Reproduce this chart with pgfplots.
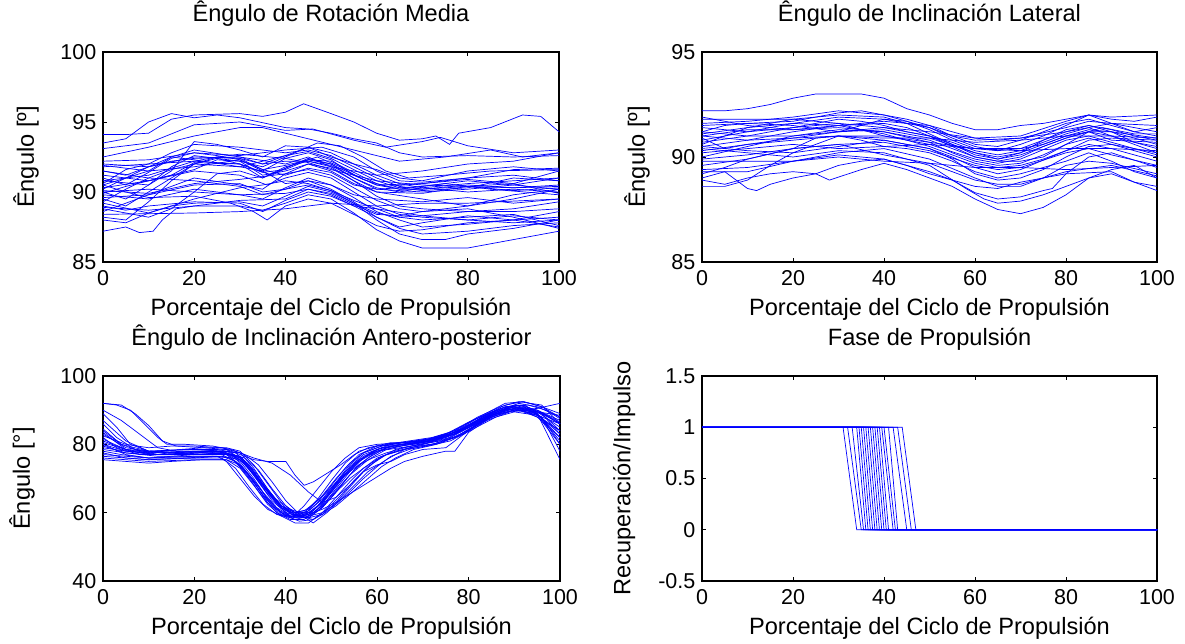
\documentclass[border=0pt]{standalone}
\usepackage{pgfplots}
\pgfplotsset{compat=1.18}
\usepackage{fontspec}
\setmainfont{Liberation Sans}
\definecolor{mblue}{rgb}{0,0,1}
\tikzset{ln/.style={draw=mblue, line width=0.7pt}}
\pgfplotsset{
  mat/.style={
    scale only axis,
    font=\fontsize{21.5}{25}\selectfont,
    /pgf/number format/assume math mode=true,
    axis line style={line width=1.1pt},
    tick style={line width=0.9pt, black},
    major tick length=4pt,
    tick align=inside,
    tick pos=both,
    xmin=0, xmax=100,
    xtick={0,20,40,60,80,100},
    no marks,
    xticklabel style={inner sep=0pt, yshift=-8.5pt},
    yticklabel style={inner sep=0pt, xshift=-6.5pt},
    title style={at={(0.5,1)}, anchor=base, yshift=24pt, inner sep=0pt, font=\fontsize{23.6}{27}\selectfont},
    xlabel style={at={(0.5,0)}, anchor=base, yshift=-54pt, inner sep=0pt, font=\fontsize{23.6}{27}\selectfont},
    ylabel style={font=\fontsize{23.6}{27}\selectfont},
    xlabel={Porcentaje del Ciclo de Propulsión},
  }
}
\begin{document}
\begin{tikzpicture}
\path[use as bounding box] (0,0) rectangle (1185pt,644pt);
% ---------- Top left ----------
\begin{axis}[mat, at={(103pt,382pt)}, anchor=south west, width=456pt, height=210pt,
  ymin=85, ymax=100, ytick={85,90,95,100},
  title={Êngulo de Rotación Media},
  ylabel={Êngulo [º]},
  ylabel style={at={(axis description cs:-0.169,0.5)}, anchor=center}]
\addplot[ln] coordinates {(0,94.1)(5,94.1)(10,94.2)(15,95.2)(20,95.5)(30,95.6)(35,95.4)(40,95.7)(44,96.3)(50,95.6)(55,95)(60,94.2)(65,93.7)(70,93.8)(73,94)(76,93.4)(78,94.2)(85,94.6)(92,95.5)(96,95.4)(100,94.3)};
\addplot[ln] coordinates {(0,93.5)(5,93.8)(10,95)(15,95.6)(20,95.3)(25,95.5)(30,95.3)(40,94.6)(45,94.5)(50,94.2)(55,93.8)(60,93.5)(65,92.8)(70,92.5)(80,92.6)(90,92.5)(100,92.6)};
\addplot[ln] coordinates {(0,93.1)(10,93.5)(20,94.8)(30,95.0)(40,94.4)(46,94.5)(55,93.7)(62,93.2)(70,93.6)(74,93.9)(80,93.3)(90,92.8)(100,93)};
\addplot[ln] coordinates {(0,92.5)(10,93.2)(20,94)(30,94.6)(35,94.6)(45,93.8)(55,93)(65,92.2)(75,92.5)(85,93)(92,92.5)(100,92.8)};
\addplot[ln] coordinates {(0,91)(5,90.5)(10,91.4)(15,92.4)(20,92.8)(25,92.6)(30,92.3)(35,91.5)(40,92.4)(45,92.8)(50,92.3)(55,91.2)(60,90.5)(65,90.2)(70,90.2)(80,90.5)(90,90.3)(100,90.5)};
\addplot[ln] coordinates {(0,90)(5,89.5)(10,90.5)(15,91.8)(20,92.6)(25,92.4)(30,92)(35,91)(40,91.7)(45,92.4)(50,92)(55,91)(60,90.3)(65,90)(70,90.3)(80,90.6)(90,90.8)(100,91)};
\addplot[ln] coordinates {(0,91.5)(5,91.2)(10,91.8)(15,92.2)(20,92.4)(30,92.5)(35,92)(40,92.6)(45,93.2)(50,92.8)(55,92)(60,91.2)(65,90.6)(70,90.3)(80,90)(90,90.2)(100,90)};
\addplot[ln] coordinates {(0,89.5)(5,89)(10,90)(15,91)(20,92)(25,92.4)(30,92.2)(35,91.2)(40,91.5)(45,92)(50,91.5)(55,90.6)(60,90)(70,89.9)(80,90.4)(90,90.6)(100,91.5)};
\addplot[ln] coordinates {(0,90.8)(10,90.5)(15,91.5)(20,93.6)(25,93.4)(30,93)(35,92.5)(40,93.3)(45,93.2)(50,92.5)(55,92)(60,91.6)(65,91)(70,90.8)(80,91.5)(90,91.8)(100,91.5)};
\addplot[ln] coordinates {(0,88.2)(5,88)(10,89.3)(15,90.8)(20,92)(25,92.5)(30,92.4)(35,91.6)(40,91.2)(45,91.7)(50,91.4)(55,90.5)(60,90.2)(70,90.4)(80,90.8)(90,90.5)(100,90.2)};
\addplot[ln] coordinates {(0,89)(5,88.7)(10,89)(20,89.3)(30,89.2)(35,88.6)(40,89.4)(45,90)(50,89.7)(55,89)(60,88.2)(65,87.4)(70,87)(80,87.2)(90,87.6)(100,87.8)};
\addplot[ln] coordinates {(0,88)(5,87.8)(10,88.5)(15,89)(20,89.2)(30,89.3)(35,89)(40,89.7)(45,90.4)(50,90)(55,89.2)(60,88)(65,87)(70,86.6)(75,86.6)(80,87)(90,87.4)(100,88)};
\addplot[ln] coordinates {(0,87.2)(5,87.5)(8,87.1)(11,87.2)(13,88)(16,88.8)(20,89)(30,89)(35,88.7)(40,89.2)(45,89.8)(50,89.5)(55,88.5)(60,87.3)(65,86.5)(70,86)(75,86)(80,86)(90,86.6)(100,87.2)};
\addplot[ln] coordinates {(0,89.8)(10,89.5)(20,90.2)(30,89.8)(35,89.5)(40,90.3)(45,91)(50,90.5)(55,89.6)(60,88.6)(65,88)(70,87.5)(80,87.7)(90,88)(100,88.6)};
\addplot[ln] coordinates {(0,90.5)(5,90)(10,89.6)(20,89.7)(28,89.2)(33,88.6)(36,88)(40,89)(45,89.5)(50,89.2)(55,88.4)(60,87.6)(65,87.2)(70,87.3)(80,87.8)(90,88)(100,87.5)};
\addplot[ln] coordinates {(0,89.2)(10,88.5)(20,89.5)(30,90.3)(35,90.5)(40,90.8)(45,90.6)(50,90.1)(55,89.2)(60,88.5)(65,88.2)(70,88.3)(80,88.6)(90,88.8)(100,89.3)};
\addplot[ln] coordinates {(0,91.5)(10,91)(20,90.8)(30,90.4)(35,89.8)(40,90.2)(45,90.8)(50,90.2)(55,89.3)(60,88.2)(65,87.5)(70,87.8)(80,88.3)(90,88)(100,88.2)};
\addplot[ln] coordinates {(0,90.5)(10,91.5)(15,92.5)(20,92.3)(30,91.8)(35,91.5)(40,90.6)(45,90.8)(50,90.5)(55,89.8)(60,89.5)(70,89.3)(80,89.6)(90,89.2)(100,89.5)};
\addplot[ln] coordinates {(0,88.4)(20,88.5)(30,88.6)(40,88.8)(50,89.2)(60,89)(70,89.2)(80,89.2)(100,89.5)};
\addplot[ln] coordinates {(0,92.2)(10,92.3)(20,92.8)(30,92.6)(40,93)(48,93.2)(55,92.5)(60,91.5)(65,90.8)(70,90.7)(80,91)(90,91.6)(100,91.7)};
\addplot[ln] coordinates {(0,90.2)(5,91)(10,91.8)(15,92.5)(20,93)(30,92.5)(40,92)(45,92.5)(50,91.8)(55,90.8)(60,90)(70,89.5)(80,89)(90,89.5)(100,90.2)};
\addplot[ln] coordinates {(0,91.2)(10,90.8)(20,91.5)(30,91.2)(36,90.5)(40,91)(45,91.4)(50,91)(55,90)(60,89)(65,88.4)(70,88.2)(80,88)(90,87.8)(100,88)};
\addplot[ln] coordinates {(0,89.6)(10,89.8)(20,91)(30,90.5)(35,90.2)(40,91.3)(45,92)(50,91.7)(55,90.8)(60,89.7)(65,89)(70,88.8)(80,88.6)(90,88.6)(100,88.8)};
\addplot[ln] coordinates {(0,90.8)(10,91.2)(20,92.2)(25,92.5)(30,92.7)(40,92.4)(45,92.1)(50,91.6)(60,90.8)(70,90.5)(80,90.4)(90,90.3)(100,90.4)};
\addplot[ln] coordinates {(0,88.8)(10,88.2)(15,88.8)(20,90)(25,91.3)(30,91.5)(35,91)(40,91.8)(45,92.2)(50,91.9)(55,91)(60,90.2)(70,90)(80,90.2)(90,90.5)(100,91)};
\addplot[ln] coordinates {(0,90)(10,90.2)(20,90)(30,89.8)(40,89.9)(45,90.2)(50,89.8)(55,89)(60,88.8)(70,88.3)(80,88)(90,88.3)(100,88)};
\addplot[ln] coordinates {(0,91.8)(10,92)(15,92.8)(20,93.4)(30,93.2)(40,92.8)(45,93)(50,92.6)(55,91.8)(60,91)(65,90.4)(70,90.2)(80,90.4)(90,90.1)(100,90.3)};
\addplot[ln] coordinates {(0,90.6)(5,91.6)(10,92)(20,92.2)(30,92)(35,91.4)(40,91.6)(45,92.3)(50,92.2)(55,91.4)(60,90.6)(65,90.2)(75,90.6)(85,90.2)(100,89.8)};
\addplot[ln] coordinates {(0,89.3)(5,90.2)(10,91)(15,91.6)(20,92)(30,91.8)(40,92.6)(45,92.9)(50,92.4)(55,91.6)(60,90.8)(65,90.3)(70,90.1)(80,90.3)(90,91)(100,90.8)};
\addplot[ln] coordinates {(0,90.3)(10,90.8)(20,91.6)(25,92.3)(30,92.2)(35,91.8)(40,92.5)(47,93.5)(52,93.3)(57,92.5)(62,91.5)(67,91)(75,91.2)(85,91.5)(100,91.6)};
\addplot[ln] coordinates {(0,88.6)(5,89.2)(10,89.8)(20,90.5)(30,90.6)(35,90)(40,90.2)(45,90.5)(50,90.1)(55,89.4)(60,88.8)(65,88.2)(70,88)(80,88.2)(90,88.4)(100,87.6)};
\addplot[ln] coordinates {(0,91.9)(10,91.5)(20,91.8)(30,92.3)(35,91.6)(40,91.9)(45,92.3)(50,92)(55,91.2)(60,90.5)(70,90.6)(80,91)(90,91.2)(100,90.8)};
\addplot[ln] coordinates {(0,90.1)(10,89.9)(20,90.6)(30,90.9)(40,91.3)(45,91.6)(50,91.2)(55,90.3)(60,89.4)(65,88.8)(70,88.6)(80,89)(90,89.8)(100,90.2)};
\addplot[ln] coordinates {(0,89.9)(5,90.4)(15,91.2)(20,92.1)(30,92)(37,91.2)(42,92)(47,92.5)(52,91.8)(57,90.9)(62,90.4)(70,90.6)(80,90.9)(90,90.6)(100,89.9)};
\addplot[ln] coordinates {(0,88.9)(10,88.7)(20,89)(30,89.4)(40,89.5)(45,90.2)(50,89.9)(55,89.1)(60,88.4)(65,88.3)(70,88.6)(80,88.8)(90,88.2)(100,87.4)};
\addplot[ln] coordinates {(0,92)(10,91.8)(20,92.5)(30,92.4)(35,92)(40,92.2)(45,92.2)(50,91.8)(55,91.5)(60,91.2)(70,91.5)(80,92)(90,92.2)(100,92.8)};
\end{axis}
% ---------- Top right ----------
\begin{axis}[mat, at={(702pt,382pt)}, anchor=south west, width=455pt, height=210pt,
  ymin=85, ymax=95, ytick={85,90,95},
  title={Êngulo de Inclinación Lateral},
  ylabel={Êngulo [º]},
  ylabel style={at={(axis description cs:-0.143,0.5)}, anchor=center}]
\addplot[ln] coordinates {(0,92.2)(5,92.2)(10,92.3)(15,92.5)(20,92.8)(25,93)(35,93)(40,92.8)(45,92.3)(50,92)(55,91.6)(60,91.3)(65,91.3)(70,91.5)(75,91.6)(80,91.8)(85,92)(90,91.8)(95,91.7)(100,91.9)};
\addplot[ln] coordinates {(0,91.2)(5,91.5)(10,91.6)(20,91.7)(30,92.1)(35,92.2)(40,92)(45,91.7)(50,91.3)(55,90.8)(60,90.4)(65,90.3)(70,90.6)(75,91)(80,91.5)(85,92)(90,91.6)(95,91.2)(100,91)};
\addplot[ln] coordinates {(0,90.8)(10,91.2)(20,91.4)(30,91.8)(35,91.7)(40,91.5)(45,91.2)(50,91)(55,90.6)(60,90.2)(65,90)(70,90.2)(75,90.6)(80,91)(85,91.3)(90,91.2)(95,90.7)(100,90.5)};
\addplot[ln] coordinates {(0,90.5)(10,90.8)(20,91.2)(30,91.5)(40,91.6)(45,91.4)(50,91)(55,90.5)(60,90)(65,89.8)(70,90)(75,90.5)(80,90.9)(85,91.2)(90,91)(95,90.6)(100,90.2)};
\addplot[ln] coordinates {(0,91.5)(10,91.6)(20,91.5)(30,91.2)(40,91.8)(45,91.7)(50,91.4)(55,91)(60,90.6)(65,90.5)(70,90.8)(75,91.2)(80,91.6)(85,91.8)(90,91.5)(95,91.2)(100,91.4)};
\addplot[ln] coordinates {(0,90)(10,90.5)(20,91)(30,91.3)(40,91.2)(50,90.7)(55,90.2)(60,89.8)(65,89.6)(70,89.7)(75,90.1)(80,90.6)(85,90.9)(90,90.6)(95,90.3)(100,90)};
\addplot[ln] coordinates {(0,89.6)(10,89.9)(20,90.4)(25,90.9)(30,91)(40,90.8)(50,90.4)(55,90)(60,89.5)(65,89.2)(70,89.4)(80,90.3)(85,90.6)(90,90.4)(100,89.8)};
\addplot[ln] coordinates {(0,88.6)(5,88.6)(10,88.9)(15,89.6)(20,90.2)(25,90.6)(30,91)(35,90.8)(40,90.5)(45,90.4)(50,90.2)(55,89.8)(60,89.3)(65,89)(70,89.2)(80,89.8)(85,90.2)(90,89.8)(95,89.3)(100,89)};
\addplot[ln] coordinates {(0,89)(5,89.3)(10,88.5)(12,88.4)(15,88.7)(20,89)(25,89.2)(30,89.6)(35,89.8)(40,89.9)(45,89.6)(50,89.2)(55,88.9)(60,88.6)(65,88.5)(70,88.8)(75,89)(80,89.2)(90,89.3)(95,88.8)(100,88.4)};
\addplot[ln] coordinates {(0,88.9)(5,88.7)(10,89)(15,89.2)(20,89.3)(25,89.2)(28,88.9)(35,89.4)(40,89.7)(45,89.4)(50,89)(55,88.6)(60,88)(65,87.5)(70,87.3)(75,87.6)(80,88.2)(85,89)(90,89.2)(95,88.8)(100,88.6)};
\addplot[ln] coordinates {(0,89.3)(10,89.3)(20,89.8)(30,90.1)(40,89.9)(50,89.3)(55,88.9)(60,88.3)(65,88)(70,88.1)(75,88.4)(77,88.5)(80,89.2)(85,90)(90,90.2)(100,89.5)};
\addplot[ln] coordinates {(0,90.4)(10,90.2)(20,90)(30,90.3)(40,90.2)(50,89.6)(58,88.5)(62,88)(65,87.8)(70,87.9)(75,88.2)(80,88.6)(85,89)(90,89.4)(95,89.6)(100,89)};
\addplot[ln] coordinates {(0,91.2)(10,91)(20,91.4)(30,91.6)(40,91.4)(50,91.2)(60,90.9)(65,90.8)(70,90.9)(80,91.2)(90,91.6)(100,91.5)};
\addplot[ln] coordinates {(0,90.6)(10,91.4)(20,91.8)(30,91.6)(35,91.3)(40,91)(50,90.7)(60,90.4)(70,90.4)(75,90.6)(80,91)(85,91.2)(90,90.8)(100,90.7)};
\addplot[ln] coordinates {(0,91.8)(10,91.8)(20,91.8)(30,92)(40,91.9)(45,91.6)(50,91.1)(55,90.6)(60,90.1)(65,89.9)(70,90.2)(75,90.8)(80,91.2)(85,91.5)(90,91.3)(95,91)(100,90.8)};
\addplot[ln] coordinates {(0,90.2)(10,90.4)(20,90.6)(30,90.4)(40,90.5)(50,90.6)(60,90.4)(70,90.3)(80,90.4)(90,90.4)(100,90.3)};
\addplot[ln] coordinates {(0,89.8)(10,89.8)(20,89.8)(30,90)(40,89.8)(50,89.7)(60,89.5)(70,89.5)(80,89.4)(90,89.5)(100,89.6)};
\addplot[ln] coordinates {(0,91)(10,91.3)(20,91.3)(30,91.4)(40,91.2)(50,90.8)(55,90.4)(60,90)(65,89.8)(70,89.8)(75,90)(80,90.6)(85,91.2)(90,91.2)(100,90.6)};
\addplot[ln] coordinates {(0,90.9)(5,90.4)(10,90.6)(20,90.9)(30,91.2)(40,91.3)(50,90.9)(60,90.2)(65,89.9)(70,90.1)(80,90.9)(88,91.4)(95,91.1)(100,91.1)};
\addplot[ln] coordinates {(0,89.4)(10,89.5)(20,89.8)(30,90.2)(40,90.4)(50,89.9)(60,89)(65,88.6)(70,88.6)(75,89)(80,89.6)(85,89.8)(90,89.7)(100,89.2)};
\addplot[ln] coordinates {(0,91.4)(10,91.2)(20,91.6)(30,91.9)(40,91.8)(50,91.4)(55,90.9)(60,90.5)(65,90.3)(70,90.4)(75,90.8)(80,91.3)(85,91.5)(90,91.2)(100,90.9)};
\addplot[ln] coordinates {(0,90.7)(10,91)(20,91)(30,91.2)(40,91.4)(50,91)(55,90.7)(60,90.3)(65,90.1)(70,90.3)(80,91.1)(85,91.4)(90,91)(100,90.4)};
\addplot[ln] coordinates {(0,90.3)(10,90.6)(20,90.8)(30,91)(40,91)(50,90.6)(60,89.9)(65,89.7)(70,89.9)(80,90.8)(85,91)(90,90.7)(100,90.1)};
\addplot[ln] coordinates {(0,91.6)(10,91.7)(20,91.9)(30,92.2)(40,92)(45,91.8)(50,91.5)(55,91)(60,90.8)(70,90.9)(80,91.4)(85,91.7)(90,91.6)(100,91.2)};
\addplot[ln] coordinates {(0,89.9)(10,90.1)(20,90.4)(30,90.6)(40,90.7)(50,90.3)(60,89.6)(65,89.4)(70,89.5)(80,90.2)(85,90.4)(90,90.1)(100,89.6)};
\addplot[ln] coordinates {(0,91)(10,90.8)(20,90.9)(30,91)(40,90.9)(50,90.9)(60,90.7)(70,90.8)(80,91)(90,91)(100,90.9)};
\addplot[ln] coordinates {(0,90.5)(10,90.3)(20,90.2)(30,90.5)(40,90.8)(50,90.4)(55,89.9)(60,89.2)(65,88.9)(70,89)(75,89.4)(80,90)(85,90.5)(90,90.6)(100,90.2)};
\addplot[ln] coordinates {(0,91.1)(10,91.4)(20,91.6)(30,91.5)(40,91.1)(50,90.5)(55,90.1)(60,89.7)(65,89.5)(70,89.6)(75,89.9)(80,90.3)(85,90.8)(90,90.9)(100,90.8)};
\addplot[ln] coordinates {(0,89.2)(5,89.5)(10,89.9)(20,90.4)(30,90.6)(40,90.1)(50,89.7)(60,88.9)(65,88.7)(70,88.7)(80,89.3)(90,89.6)(100,89.1)};
\addplot[ln] coordinates {(0,91.9)(10,91.5)(20,91.3)(30,91.5)(40,91.7)(50,91.5)(55,91.2)(60,90.9)(70,91)(80,91.7)(85,92)(90,91.9)(100,92)};
\end{axis}
% ---------- Bottom left ----------
\begin{axis}[mat, at={(103pt,63pt)}, anchor=south west, width=457pt, height=205pt,
  ymin=40, ymax=100, ytick={40,60,80,100},
  title={Êngulo de Inclinación Antero-posterior},
  ylabel={Êngulo [°]},
  ylabel style={at={(axis description cs:-0.177,0.5)}, anchor=center}]
\addplot[ln] coordinates {(0,84)(4,80)(8,78)(15,77.5)(20,78)(26,77.8)(29,76)(32,71)(35,65)(38,61)(41,59)(44,59.5)(47,63)(50,68)(53,73)(56,77)(60,79.5)(65,80.5)(70,81)(75,83)(80,86.5)(85,89.5)(90,91)(95,89.5)(100,85)};
\addplot[ln] coordinates {(0,78)(4,77)(10,76)(15,76.5)(20,77)(27,77)(30,75)(33,70)(36,64)(39,60)(42,58)(45,59)(48,62)(51,67)(54,72)(57,76)(60,78.5)(65,80)(70,80.5)(75,82.5)(80,85.5)(85,88.5)(90,90.5)(95,88)(100,82)};
\addplot[ln] coordinates {(0,82)(3,79)(8,77)(15,77)(22,78)(27,78.5)(31,75)(34,70)(37,65)(40,61.5)(43,60)(46,60)(49,63.5)(52,68)(55,72.5)(58,76)(62,79)(68,80)(72,81)(78,84)(83,88)(88,91)(92,91.5)(96,89)(100,86)};
\addplot[ln] coordinates {(0,76.5)(5,76)(10,75.5)(18,76)(24,76.5)(28,76)(31,72)(34,67)(37,62)(40,59)(43,57.5)(46,58)(49,61)(52,65)(55,69.5)(58,73.5)(62,77)(67,79)(72,80)(77,82)(82,86)(87,90)(91,92)(95,91)(100,88)};
\addplot[ln] coordinates {(0,86)(3,82)(7,78.5)(12,77)(20,77)(26,77.5)(30,76.5)(33,72.5)(36,67)(39,62)(42,59.5)(45,60.5)(48,64)(51,69)(54,74)(57,77.5)(61,79.5)(66,80.5)(71,81.5)(76,83.5)(81,87)(86,90)(90,91.5)(94,90)(100,83)};
\addplot[ln] coordinates {(0,90)(4,87)(8,83)(12,79)(16,78)(22,78)(27,77.5)(30,75.5)(33,71)(36,66)(39,61.5)(42,59)(45,58.5)(48,61.5)(51,66)(54,71)(58,75.5)(62,78.5)(67,80)(72,81)(78,83.5)(83,87.5)(88,90.5)(92,91)(96,88)(100,80)};
\addplot[ln] coordinates {(0,92)(3,91.5)(6,90)(9,86)(12,82)(14,80)(18,80)(24,79.5)(28,78.5)(31,77)(34,74)(37,69)(40,63.5)(43,59.5)(46,57)(49,60)(52,64)(55,68)(58,72)(62,75.5)(66,78.5)(70,80)(75,82)(80,85)(85,88.5)(90,90)(95,90.5)(100,92)};
\addplot[ln] coordinates {(0,92)(4,91.5)(7,89)(10,85.5)(13,81)(16,79.5)(22,79)(27,78.5)(30,77)(33,75.5)(36,75)(40,75)(42,71)(44,68)(46,69)(49,71.5)(52,74)(55,77)(58,79)(63,80.5)(68,80.5)(73,82)(78,84.5)(83,88.5)(88,92)(92,92.5)(96,91)(100,88)};
\addplot[ln] coordinates {(0,79)(5,78)(12,77)(20,77.5)(26,78)(30,77.5)(33,76)(37,74.5)(41,71)(43,68.5)(45,66)(48,63)(51,64.5)(54,68)(57,72)(60,74)(63,75)(66,77)(70,78.5)(75,79)(80,84)(85,89)(90,91)(95,88)(100,84)};
\addplot[ln] coordinates {(0,77)(5,76.5)(10,76)(20,76)(26,76.5)(30,75.5)(33,71.5)(36,66.5)(39,62)(42,60)(45,59.5)(48,61)(51,63)(54,65.5)(57,68)(60,70.5)(63,73)(66,75)(70,76.5)(75,78)(77,78)(80,83.5)(85,88)(90,90)(95,89)(100,82)};
\addplot[ln] coordinates {(0,80)(5,78)(10,77.5)(17,78.5)(22,79)(27,79)(30,78)(33,74)(36,68.5)(39,63)(42,60)(45,60)(47,62)(50,66)(53,71)(56,75)(59,78)(63,80)(68,81)(73,82)(78,84)(83,87.5)(88,90)(92,90.5)(96,88)(100,78)};
\addplot[ln] coordinates {(0,75.5)(5,75)(10,74.5)(15,75)(22,75.5)(27,75.5)(30,73)(33,68)(36,62.5)(39,59)(42,57)(45,57)(48,60)(51,64.5)(54,69)(57,73)(61,76.5)(66,78.5)(71,79.5)(76,81)(81,84.5)(86,88)(90,89.5)(95,88.5)(100,86)};
\addplot[ln] coordinates {(0,83)(5,79)(10,78)(15,77)(22,77.5)(28,77)(31,74.5)(34,69)(37,63.5)(40,60)(43,59)(46,60.5)(49,65)(52,70)(55,74)(58,77)(62,79)(67,80.5)(72,81.5)(77,83)(82,87)(87,90)(91,90.5)(95,89)(100,75.5)};
\addplot[ln] coordinates {(0,81)(6,78)(12,77)(20,77)(26,77)(29,75)(32,70)(35,64.5)(38,60)(41,58)(44,58)(47,61)(50,66)(53,71)(56,75)(60,78)(65,79.5)(70,80.5)(75,82)(80,85)(85,88.5)(90,90.5)(95,88.5)(100,84)};
\addplot[ln] coordinates {(0,78.5)(5,77.5)(10,77)(20,77.5)(27,78)(30,76)(33,72)(36,66.5)(39,61.5)(42,59)(45,59.5)(48,63)(51,68)(54,73)(57,76.5)(61,79)(66,80)(71,81)(76,83)(81,86)(86,89)(90,91)(95,90)(100,87)};
\addplot[ln] coordinates {(0,87)(5,81)(10,78)(16,77.5)(22,78)(27,77)(30,74)(33,69)(36,63)(39,59.5)(42,58.5)(45,59.5)(48,63)(51,68.5)(54,73.5)(57,77)(61,79)(66,80)(71,81)(76,83)(81,86.5)(86,89.5)(90,91)(95,89)(100,81)};
\addplot[ln] coordinates {(0,82.5)(5,80)(10,79)(15,79.5)(20,79.5)(26,79)(30,77.5)(33,73)(36,67)(39,62)(42,60)(45,61)(48,65)(51,70)(54,74.5)(57,77.5)(62,80)(67,81)(72,82)(77,84)(82,88)(87,91)(91,92.5)(96,91.5)(100,86)};
\addplot[ln] coordinates {(0,79.5)(5,77.5)(12,76.5)(20,76.5)(26,76.5)(29,75)(32,71)(35,66)(38,61.5)(41,59)(44,59)(47,62)(50,67)(53,72)(56,75.5)(60,78)(65,79)(70,80)(75,81.5)(80,85)(85,88)(90,90)(95,89.5)(100,88.5)};
\addplot[ln] coordinates {(0,80)(5,77)(10,76)(20,76.5)(25,76.5)(27,75)(30,70)(33,65)(36,61)(39,59)(42,59.5)(44,62)(47,67)(50,72)(53,76)(56,79)(60,80)(66,80.5)(72,81.5)(78,84)(83,88)(88,91)(92,91.5)(96,89)(100,84)};
\addplot[ln] coordinates {(0,77.5)(5,76)(10,75.5)(20,76)(26,76)(29,73)(32,67.5)(35,62.5)(38,59.5)(41,58.5)(44,60)(47,64)(50,69.5)(53,74.5)(56,78)(60,79.5)(66,80)(72,81)(77,83)(82,87)(87,90.5)(91,91.5)(95,90)(100,86.5)};
\addplot[ln] coordinates {(0,81.5)(5,78.5)(10,77.5)(18,78)(25,78)(30,76)(33,71)(36,65.5)(39,61.5)(42,59.5)(45,59)(48,60)(51,62.5)(54,66)(57,70)(60,73.5)(63,76.5)(67,78.5)(72,80)(77,82)(82,86)(87,89)(91,90.5)(95,90)(100,86)};
\addplot[ln] coordinates {(0,84.5)(4,80)(10,78)(18,77.5)(25,77.5)(30,76.5)(33,72)(36,66.5)(39,62)(42,59.5)(45,58.5)(48,59.5)(51,62)(55,66.5)(58,70)(61,73.5)(64,76)(68,78.5)(73,80)(78,82.5)(83,86.5)(88,90)(92,91)(96,89)(100,83)};
\addplot[ln] coordinates {(0,76)(5,75.5)(10,75)(20,75.5)(27,75.5)(30,74)(33,69.5)(36,64)(39,60)(42,58.5)(45,58.5)(48,61.5)(51,66)(54,70)(57,73)(60,76)(64,78)(69,79.5)(74,80.5)(79,83.5)(84,87)(89,89.5)(93,90)(97,88.5)(100,86)};
\addplot[ln] coordinates {(0,89)(3,85)(6,80)(10,78)(18,78.5)(25,78.5)(29,77.5)(32,74)(35,68)(38,62.5)(41,59)(44,58.5)(47,60.5)(50,64.5)(53,69.5)(56,74)(59,77)(63,79.5)(68,80.5)(73,81.5)(78,84)(83,88)(88,91.5)(92,92.5)(96,91)(100,89)};
\addplot[ln] coordinates {(0,80.5)(5,78.5)(10,78)(20,78.5)(26,78)(29,76.5)(32,73)(35,68)(38,63)(41,60)(44,60.5)(47,63.5)(50,67.5)(53,71)(56,74)(59,76)(62,77.5)(66,79)(71,80.5)(76,82)(81,85.5)(86,89)(90,90.5)(95,88.5)(100,80)};
\addplot[ln] coordinates {(0,83.5)(5,78.5)(10,77)(20,77)(27,77.5)(31,76)(34,72.5)(37,67)(40,62)(43,59)(46,58)(48,59.5)(51,63)(54,67.5)(57,72)(60,75.5)(64,78.5)(69,80)(74,81)(79,83)(84,87.5)(89,91)(93,91.5)(97,90)(100,87.5)};
\end{axis}
% ---------- Bottom right ----------
\begin{axis}[mat, at={(702pt,63pt)}, anchor=south west, width=455pt, height=205pt,
  ymin=-0.5, ymax=1.5, ytick={-0.5,0,0.5,1,1.5},
  yticklabels={-0.5,0,0.5,1,1.5},
  title={Fase de Propulsión},
  ylabel={Recuperación/Impulso},
  ylabel style={at={(axis description cs:-0.171,0.5)}, anchor=center}]
\addplot[ln] coordinates {(0,1)(31,1)(34,0)(100,0)};
\addplot[ln] coordinates {(0,1)(32,1)(35,0)(100,0)};
\addplot[ln] coordinates {(0,1)(33,1)(35.5,0)(100,0)};
\addplot[ln] coordinates {(0,1)(34,1)(36,0)(100,0)};
\addplot[ln] coordinates {(0,1)(34.5,1)(36.5,0)(100,0)};
\addplot[ln] coordinates {(0,1)(35,1)(37,0)(100,0)};
\addplot[ln] coordinates {(0,1)(35.5,1)(37.5,0)(100,0)};
\addplot[ln] coordinates {(0,1)(36,1)(38,0)(100,0)};
\addplot[ln] coordinates {(0,1)(36.5,1)(38.5,0)(100,0)};
\addplot[ln] coordinates {(0,1)(37,1)(39,0)(100,0)};
\addplot[ln] coordinates {(0,1)(37.5,1)(39.5,0)(100,0)};
\addplot[ln] coordinates {(0,1)(38,1)(40,0)(100,0)};
\addplot[ln] coordinates {(0,1)(38.5,1)(40.5,0)(100,0)};
\addplot[ln] coordinates {(0,1)(39,1)(41,0)(100,0)};
\addplot[ln] coordinates {(0,1)(39.5,1)(42,0)(100,0)};
\addplot[ln] coordinates {(0,1)(40,1)(42.5,0)(100,0)};
\addplot[ln] coordinates {(0,1)(41,1)(43,0)(100,0)};
\addplot[ln] coordinates {(0,1)(42,1)(45,0)(100,0)};
\addplot[ln] coordinates {(0,1)(43,1)(46,0)(100,0)};
\addplot[ln] coordinates {(0,1)(44,1)(47,0)(100,0)};
\end{axis}
\end{tikzpicture}
\end{document}
